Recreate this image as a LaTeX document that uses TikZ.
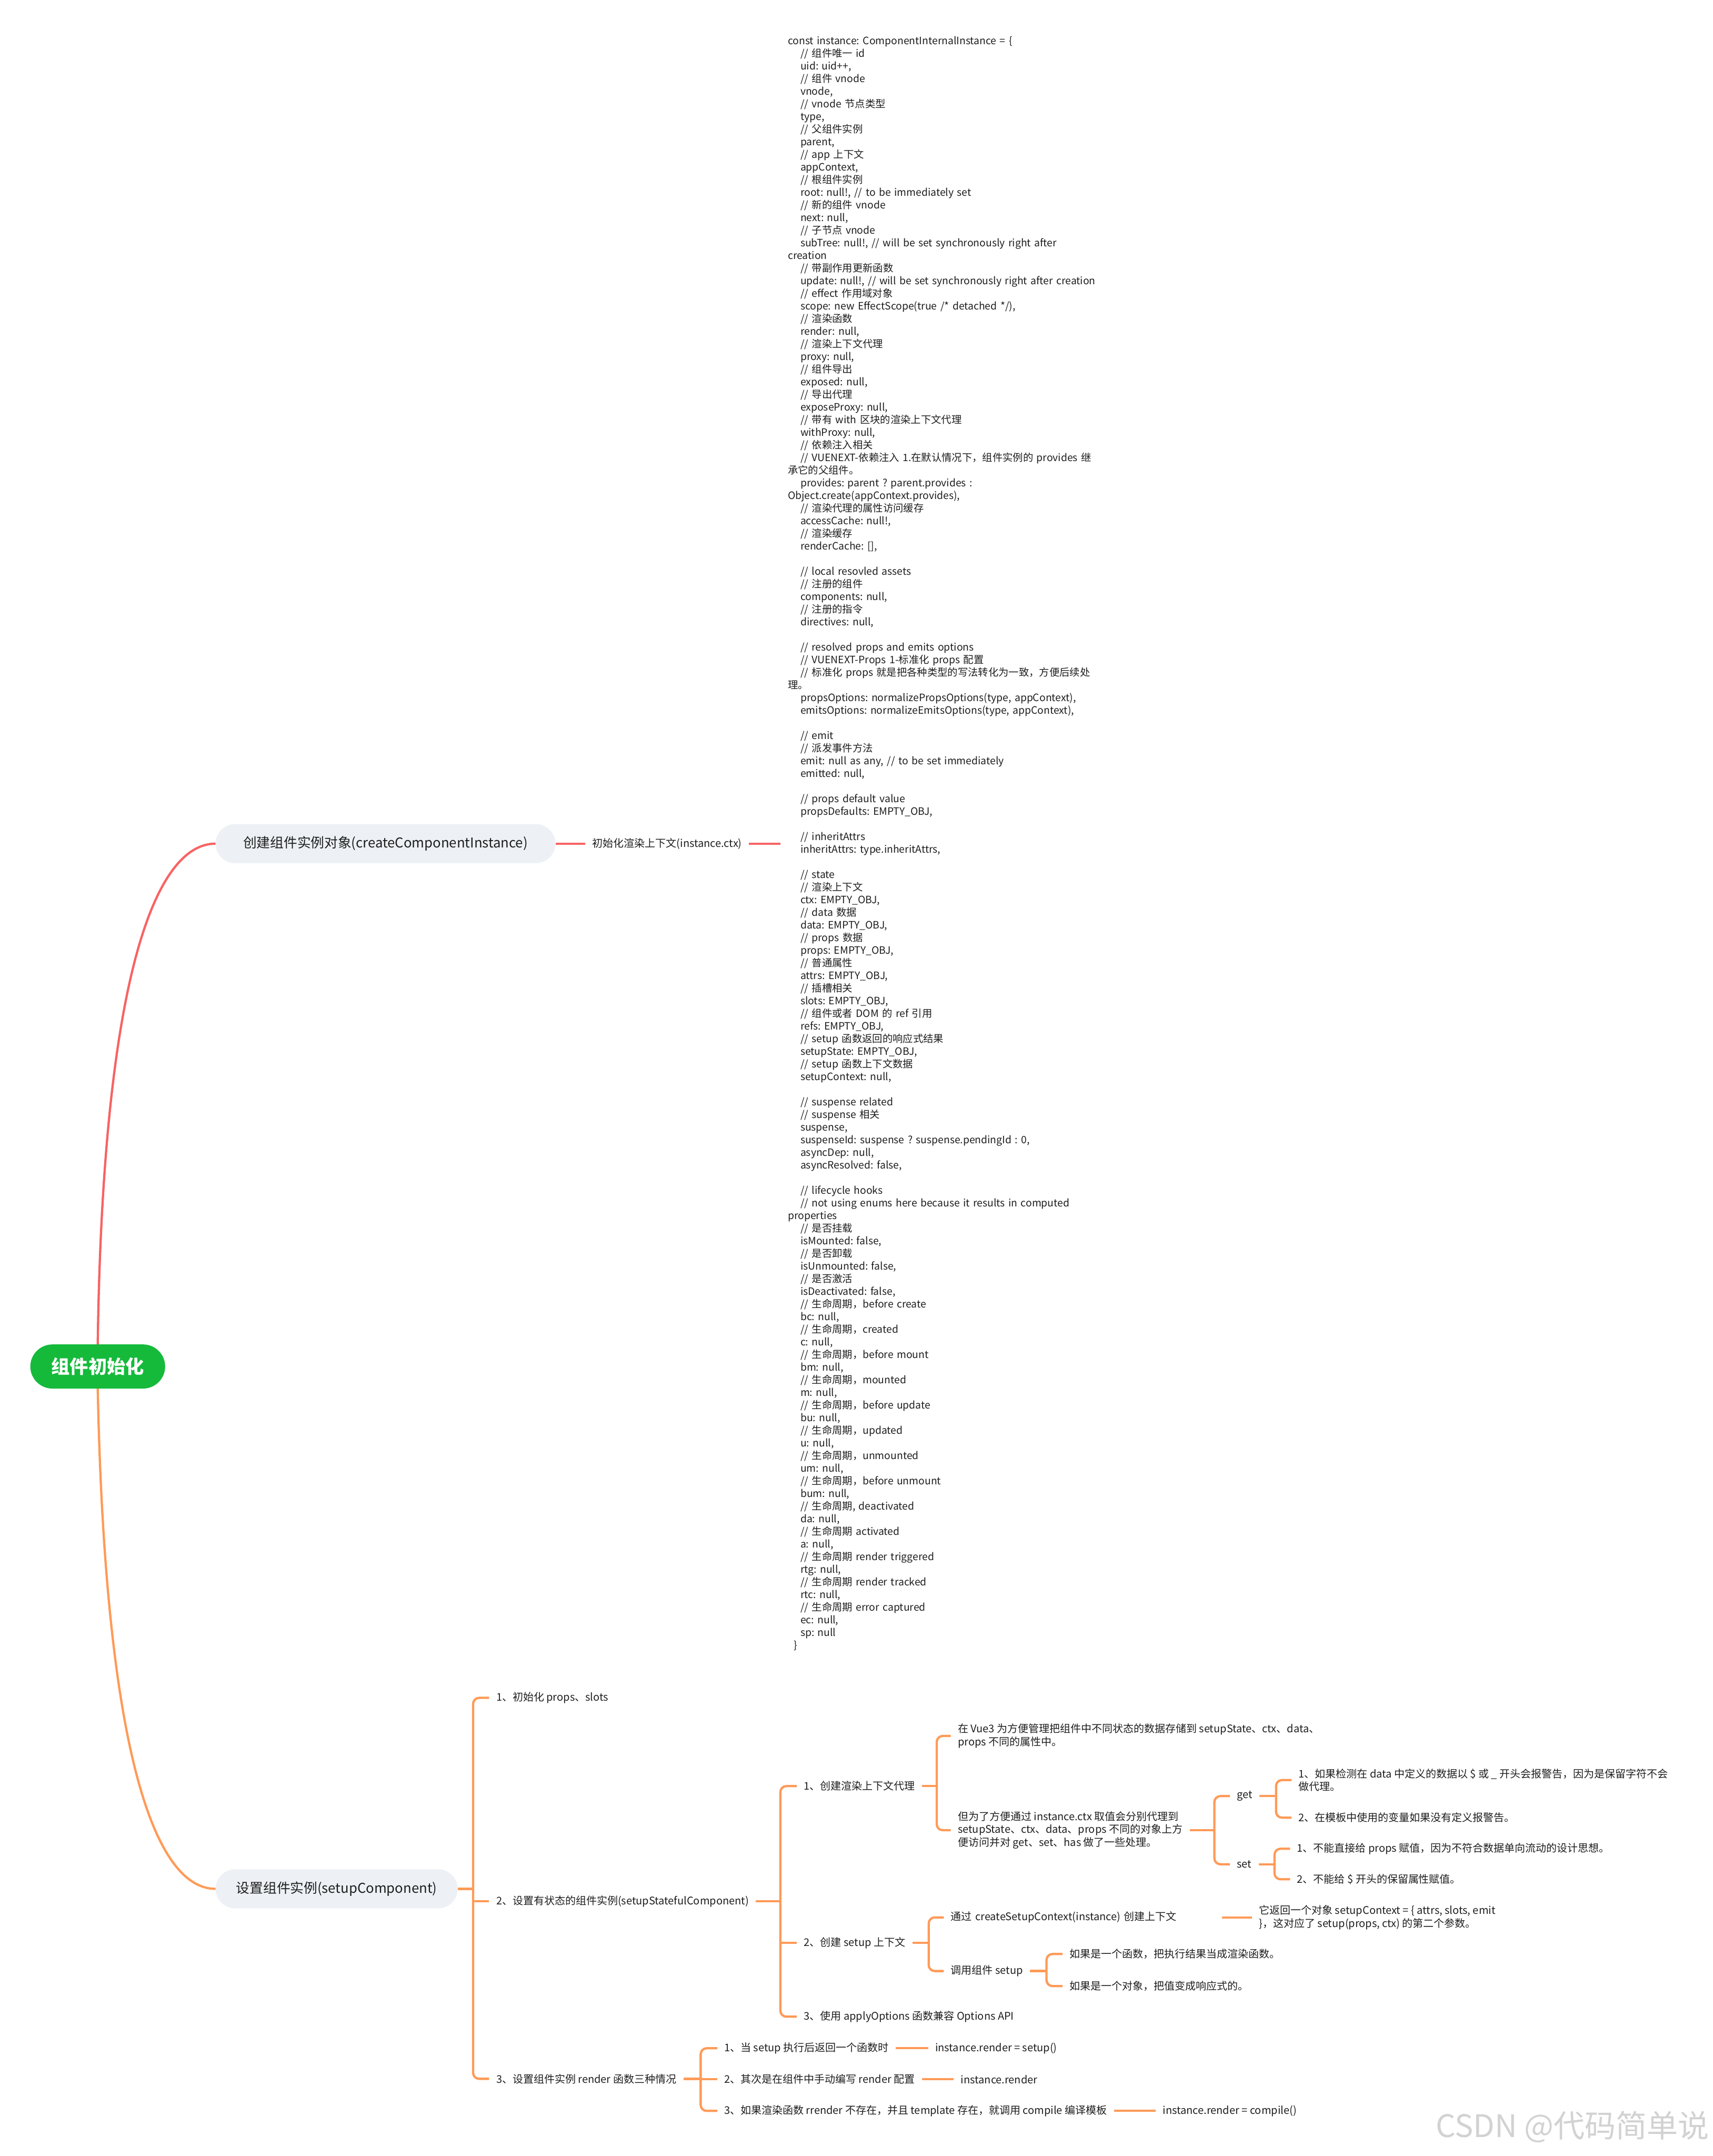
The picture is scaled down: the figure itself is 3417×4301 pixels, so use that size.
\documentclass[tikz,border=0pt]{standalone}
\usepackage{fontspec}
\setmainfont{Noto Sans CJK SC}
\usetikzlibrary{calc}
\definecolor{ink}{HTML}{1E1E1E}
\definecolor{redC}{HTML}{F76363}
\definecolor{orgC}{HTML}{FF9A57}
\definecolor{pillC}{HTML}{EDF1F5}
\definecolor{rootC}{HTML}{15BA3B}
\definecolor{wmC}{HTML}{D2D2D2}
\newcommand\myind{\hspace*{25pt}}
\frenchspacing
\begin{document}
\frenchspacing
\begin{tikzpicture}[x=1pt,y=-1pt,
  txt/.style={font=\fontsize{21}{26}\selectfont\frenchspacing, anchor=west, inner xsep=14pt, inner ysep=3pt, align=left, text=ink},
  pill/.style={fill=pillC, rounded corners=39pt, minimum height=78pt, anchor=west, font=\fontsize{27}{32}\selectfont, text=ink, inner sep=0pt},
  codebox/.style={font=\fontsize{20.3}{25.2}\selectfont\frenchspacing, anchor=west, inner xsep=15pt, inner ysep=0pt, text width=720pt, align=left, text=ink},
  orgl/.style={draw=orgC, line width=4.5pt},
  redl/.style={draw=redC, line width=4.5pt},
  br/.style={orgl, rounded corners=12pt}]
\fill[white] (0,0) rectangle (3417,4301);
\useasboundingbox (0,0) rectangle (3417,4301);

% root
\node[fill=rootC, text=white, rounded corners=44pt, minimum width=269pt, minimum height=88pt, inner sep=0pt,
  font=\fontsize{37}{42}\selectfont\bfseries] (root) at (195,2726) {组件初始化};

% branch 1
\node[pill, minimum width=678pt] (b1) at (430,1683) {创建组件实例对象(createComponentInstance)};
\node[txt, font=\fontsize{21}{25}\selectfont\frenchspacing] (lbl) at (1168,1683) {初始化渲染上下文(instance.ctx)};
\node[codebox] (code) at (1557,1683) {const instance: ComponentInternalInstance = \{\\
\myind // 组件唯一 id\\
\myind uid: uid++,\\
\myind // 组件 vnode\\
\myind vnode,\\
\myind // vnode 节点类型\\
\myind type,\\
\myind // 父组件实例\\
\myind parent,\\
\myind // app 上下文\\
\myind appContext,\\
\myind // 根组件实例\\
\myind root: null!, // to be immediately set\\
\myind // 新的组件 vnode\\
\myind next: null,\\
\myind // 子节点 vnode\\
\myind subTree: null!, // will be set synchronously right after\\
creation\\
\myind // 带副作用更新函数\\
\myind update: null!, // will be set synchronously right after creation\\
\myind // effect 作用域对象\\
\myind scope: new EffectScope(true /* detached */),\\
\myind // 渲染函数\\
\myind render: null,\\
\myind // 渲染上下文代理\\
\myind proxy: null,\\
\myind // 组件导出\\
\myind exposed: null,\\
\myind // 导出代理\\
\myind exposeProxy: null,\\
\myind // 带有 with 区块的渲染上下文代理\\
\myind withProxy: null,\\
\myind // 依赖注入相关\\
\myind // VUENEXT-依赖注入 1.在默认情况下，组件实例的 provides 继\\
承它的父组件。\\
\myind provides: parent ? parent.provides :\\
Object.create(appContext.provides),\\
\myind // 渲染代理的属性访问缓存\\
\myind accessCache: null!,\\
\myind // 渲染缓存\\
\myind renderCache: [],\\
\mbox{}\\
\myind // local resovled assets\\
\myind // 注册的组件\\
\myind components: null,\\
\myind // 注册的指令\\
\myind directives: null,\\
\mbox{}\\
\myind // resolved props and emits options\\
\myind // VUENEXT-Props 1-标准化 props 配置\\
\myind // 标准化 props 就是把各种类型的写法转化为一致，方便后续处\\
理。\\
\myind propsOptions: normalizePropsOptions(type, appContext),\\
\myind emitsOptions: normalizeEmitsOptions(type, appContext),\\
\mbox{}\\
\myind // emit\\
\myind // 派发事件方法\\
\myind emit: null as any, // to be set immediately\\
\myind emitted: null,\\
\mbox{}\\
\myind // props default value\\
\myind propsDefaults: EMPTY\_OBJ,\\
\mbox{}\\
\myind // inheritAttrs\\
\myind inheritAttrs: type.inheritAttrs,\\
\mbox{}\\
\myind // state\\
\myind // 渲染上下文\\
\myind ctx: EMPTY\_OBJ,\\
\myind // data 数据\\
\myind data: EMPTY\_OBJ,\\
\myind // props 数据\\
\myind props: EMPTY\_OBJ,\\
\myind // 普通属性\\
\myind attrs: EMPTY\_OBJ,\\
\myind // 插槽相关\\
\myind slots: EMPTY\_OBJ,\\
\myind // 组件或者 DOM 的 ref 引用\\
\myind refs: EMPTY\_OBJ,\\
\myind // setup 函数返回的响应式结果\\
\myind setupState: EMPTY\_OBJ,\\
\myind // setup 函数上下文数据\\
\myind setupContext: null,\\
\mbox{}\\
\myind // suspense related\\
\myind // suspense 相关\\
\myind suspense,\\
\myind suspenseId: suspense ? suspense.pendingId : 0,\\
\myind asyncDep: null,\\
\myind asyncResolved: false,\\
\mbox{}\\
\myind // lifecycle hooks\\
\myind // not using enums here because it results in computed\\
properties\\
\myind // 是否挂载\\
\myind isMounted: false,\\
\myind // 是否卸载\\
\myind isUnmounted: false,\\
\myind // 是否激活\\
\myind isDeactivated: false,\\
\myind // 生命周期，before create\\
\myind bc: null,\\
\myind // 生命周期，created\\
\myind c: null,\\
\myind // 生命周期，before mount\\
\myind bm: null,\\
\myind // 生命周期，mounted\\
\myind m: null,\\
\myind // 生命周期，before update\\
\myind bu: null,\\
\myind // 生命周期，updated\\
\myind u: null,\\
\myind // 生命周期，unmounted\\
\myind um: null,\\
\myind // 生命周期，before unmount\\
\myind bum: null,\\
\myind // 生命周期, deactivated\\
\myind da: null,\\
\myind // 生命周期 activated\\
\myind a: null,\\
\myind // 生命周期 render triggered\\
\myind rtg: null,\\
\myind // 生命周期 render tracked\\
\myind rtc: null,\\
\myind // 生命周期 error captured\\
\myind ec: null,\\
\myind sp: null\\
\hspace*{12pt}\}};

\draw[redl] (root.north) .. controls (205,1950) and (310,1683) .. (b1.west);
\draw[redl] (b1.east) -- (lbl.west);
\draw[redl] (lbl.east) -- (code.west);

% branch 2
\node[pill, minimum width=483pt] (b2) at (430,3768) {设置组件实例(setupComponent)};
\draw[orgl] (root.south) .. controls (210,3500) and (310,3768) .. (b2.west);

\node[txt] (n11) at (976,3387) {1、初始化 props、slots};
\node[txt] (n12) at (976,3793) {2、设置有状态的组件实例(setupStatefulComponent)};
\node[txt] (n13) at (976,4147) {3、设置组件实例 render 函数三种情况};
\coordinate (s1) at (944,3768);
\draw[orgl] (b2.east) -- (s1);
\draw[br] (n11.west) -| (s1) |- (n13.west);
\draw[orgl] (s1 |- n12.west) -- (n12.west);

\node[txt] (n21) at (1590,3563) {1、创建渲染上下文代理};
\node[txt] (n22) at (1590,3876) {2、创建 setup 上下文};
\node[txt] (n23) at (1590,4023) {3、使用 applyOptions 函数兼容 Options API};
\coordinate (s2) at (1557,3793);
\draw[orgl] (n12.east) -- (s2);
\draw[br] (n21.west) -| (s2) |- (n23.west);
\draw[orgl] (s2 |- n22.west) -- (n22.west);

\node[txt] (n31) at (1897,3463) {在 Vue3 为方便管理把组件中不同状态的数据存储到 setupState、ctx、data、\\props 不同的属性中。};
\node[txt] (n32) at (1897,3651) {但为了方便通过 instance.ctx 取值会分别代理到\\setupState、ctx、data、props 不同的对象上方\\便访问并对 get、set、has 做了一些处理。};
\coordinate (s3) at (1869,3563);
\draw[orgl] (n21.east) -- (s3);
\draw[br] (n31.west) -| (s3) |- (n32.west);

\node[txt] (n41) at (2454,3583) {get};
\node[txt] (n42) at (2454,3719) {set};
\coordinate (s4) at (2423,3651);
\draw[orgl] (n32.east) -- (s4);
\draw[br] (n41.west) -| (s4) |- (n42.west);

\node[txt] (n51) at (2577,3551) {1、如果检测在 data 中定义的数据以 \$ 或 \_ 开头会报警告，因为是保留字符不会\\做代理。};
\node[txt] (n52) at (2577,3626) {2、在模板中使用的变量如果没有定义报警告。};
\coordinate (s5) at (2546,3583);
\draw[orgl] (n41.east) -- (s5);
\draw[br] (n51.west) -| (s5) |- (n52.west);

\node[txt] (n61) at (2574,3688) {1、不能直接给 props 赋值，因为不符合数据单向流动的设计思想。};
\node[txt] (n62) at (2574,3749) {2、不能给 \$ 开头的保留属性赋值。};
\coordinate (s6) at (2543,3719);
\draw[orgl] (n42.east) -- (s6);
\draw[br] (n61.west) -| (s6) |- (n62.west);

\node[txt, text width=527pt] (n71) at (1883,3825) {通过 createSetupContext(instance) 创建上下文};
\node[txt] (n72) at (1883,3932) {调用组件 setup};
\coordinate (s7) at (1853,3876);
\draw[orgl] (n22.east) -- (s7);
\draw[br] (n71.west) -| (s7) |- (n72.west);

\node[txt] (n81) at (2498,3825) {它返回一个对象 setupContext = \{ attrs, slots, emit\\\}，这对应了 setup(props, ctx) 的第二个参数。};
\draw[orgl] (n71.east) -- (n81.west);

\node[txt] (n91) at (2120,3898) {如果是一个函数，把执行结果当成渲染函数。};
\node[txt] (n92) at (2120,3962) {如果是一个对象，把值变成响应式的。};
\coordinate (s8) at (2088,3932);
\draw[orgl] (n72.east) -- (s8);
\draw[br] (n91.west) -| (s8) |- (n92.west);

\node[txt] (m1) at (1431,4086) {1、当 setup 执行后返回一个函数时};
\node[txt] (m2) at (1431,4148) {2、其次是在组件中手动编写 render 配置};
\node[txt] (m3) at (1431,4211) {3、如果渲染函数 rrender 不存在，并且 template 存在，就调用 compile 编译模板};
\coordinate (s9) at (1398,4147);
\draw[orgl] (n13.east) -- (s9);
\draw[br] (m1.west) -| (s9) |- (m3.west);
\draw[orgl] (s9 |- m2.west) -- (m2.west);

\node[txt] (m1r) at (1852,4086) {instance.render = setup()};
\node[txt] (m2r) at (1903,4148) {instance.render};
\node[txt] (m3r) at (2306,4211) {instance.render = compile()};
\draw[orgl] (m1.east) -- (m1r.west);
\draw[orgl] (m2.east) -- (m2r.west);
\draw[orgl] (m3.east) -- (m3r.west);

% watermark
\node[font=\fontsize{62}{66}\selectfont, text=wmC, anchor=east, inner sep=0pt] (wm) at (3410,4243) {CSDN @代码简单说};
\end{tikzpicture}
\end{document}
